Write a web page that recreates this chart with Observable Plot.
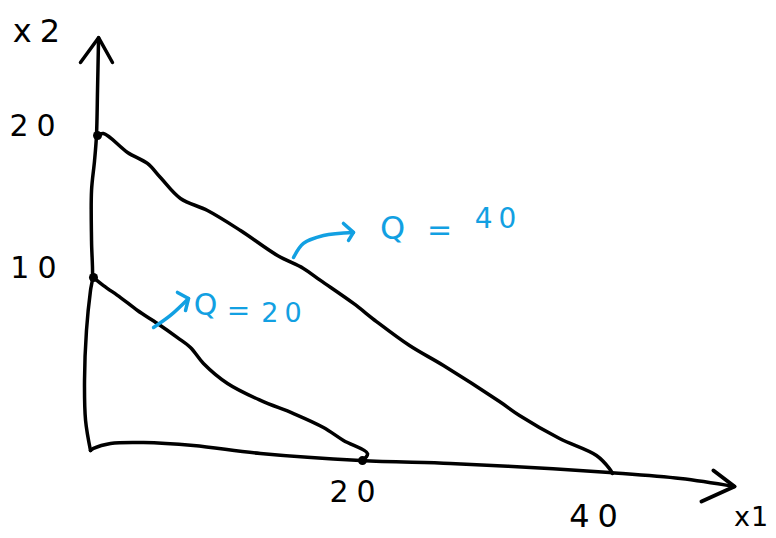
<!DOCTYPE html>
<html>
<head>
<meta charset="utf-8">
<script src="https://cdn.jsdelivr.net/npm/d3@7"></script>
<script src="https://cdn.jsdelivr.net/npm/@observablehq/plot@0.6"></script>
<style>
  html, body { margin: 0; padding: 0; background: #fff; }
  #chart { width: 776px; height: 538px; overflow: hidden; }
  .lbl text { letter-spacing: 8px; }
  .lbl2 text { letter-spacing: 1px; }
  .blue text { letter-spacing: 6px; }
</style>
</head>
<body>
<div id="chart"></div>
<script>
// Hand-drawn axes and isoquants (data units: x1 0..40, x2 0..20)
const yAxisX = [0, -0.38, -0.46, -0.31, 0, 0.15, 0.08, 0.08, 0.31, 0.46, 0.54, 0.62];
const yAxisY = [0, 1.88, 4.38, 7.5, 10, 10.75, 13.1, 16.25, 18.1, 19.7, 22.5, 25.8];
const yArrowX = [-0.77, 0.62, 1.69];
const yArrowY = [24.25, 25.8, 24.25];

const xAxisX = [0, 0.23, 1.54, 4.08, 7.92, 13.08, 20.77, 27.69, 33.85, 39.92, 45.38, 49.54];
const xAxisY = [0, 0.13, 0.44, 0.5, 0.31, -0.19, -0.63, -0.81, -1.06, -1.38, -1.75, -2.25];
const xArrowX = [47.92, 49.54, 47.0];
const xArrowY = [-1.25, -2.25, -3.19];

const q40X = [0.54, 1.0, 2.85, 4.38, 5.38, 6.92, 9.0, 11.54, 14.38, 16.38, 17.69, 20.23, 22.0, 24.54, 27.15, 31.46, 33.0, 36.08, 38.92, 39.92, 40.15];
const q40Y = [19.69, 19.81, 18.63, 17.94, 17.06, 15.75, 15.0, 13.75, 12.19, 11.38, 10.63, 9.19, 8.06, 6.56, 5.31, 3.06, 2.19, 0.75, -0.31, -1.13, -1.44];

const q20X = [0.23, 1.0, 2.31, 3.62, 5.15, 6.69, 7.69, 8.69, 10.54, 13.08, 15.62, 17.92, 19.46, 21.31, 20.92];
const q20Y = [10.81, 10.31, 9.56, 8.75, 7.94, 7.06, 6.44, 5.44, 4.19, 3.13, 2.31, 1.44, 0.63, -0.19, -0.63];

const dotX = [0.23, 0.54, 20.92];
const dotY = [10.81, 19.69, -0.63];

// blue pointer arrows
const arr40X = [15.62, 16.38, 17.92, 20.23];
const arr40Y = [12.06, 12.94, 13.44, 13.63];
const head40X = [19.46, 20.23, 19.85];
const head40Y = [14.19, 13.63, 13.13];
const arr20X = [4.85, 6.15, 7.54];
const arr20Y = [7.69, 8.44, 9.5];
const head20X = [6.69, 7.54, 7.31];
const head20Y = [9.88, 9.5, 8.75];

// tick labels
const tickText = ["20", "10", "20", "40"];
const tickX = [-4.15, -4.08, 20.46, 39.0];
const tickY = [20.25, 11.38, -2.63, -4.13];
const tickSize = [30, 30, 30, 32];

// axis names
const axisText = ["x2", "x1"];
const axisX = [-3.85, 49.5];
const axisY = [26.19, -4.2];

// annotations
const noteText = ["Q", "=", "40", "Q", "=", "20"];
const noteX = [23.46, 27.08, 31.38, 9.08, 11.62, 14.92];
const noteY = [13.88, 13.75, 14.44, 9.06, 8.69, 8.56];
const noteSize = [32, 30, 28, 30, 28, 27];

const pts = (xs, ys) => xs.map((x, i) => ({x, y: ys[i]}));

const black = "#000";
const blue = "#12a0e2";

const chart = Plot.plot({
  width: 776,
  height: 538,
  margin: 0,
  x: {domain: [0, 40], range: [90, 610], axis: null},
  y: {domain: [0, 20], range: [450, 130], axis: null},
  style: {background: "#fff", fontFamily: "DejaVu Sans"},
  marks: [
    Plot.line(pts(yAxisX, yAxisY), {x: "x", y: "y", stroke: black, strokeWidth: 3.5, curve: "catmull-rom"}),
    Plot.line(pts(yArrowX, yArrowY), {x: "x", y: "y", stroke: black, strokeWidth: 3.5}),
    Plot.line(pts(xAxisX, xAxisY), {x: "x", y: "y", stroke: black, strokeWidth: 3.5, curve: "catmull-rom"}),
    Plot.line(pts(xArrowX, xArrowY), {x: "x", y: "y", stroke: black, strokeWidth: 4}),
    Plot.line(pts(q40X, q40Y), {x: "x", y: "y", stroke: black, strokeWidth: 3.5, curve: "catmull-rom"}),
    Plot.line(pts(q20X, q20Y), {x: "x", y: "y", stroke: black, strokeWidth: 3.5, curve: "catmull-rom"}),
    Plot.dot(pts(dotX, dotY), {x: "x", y: "y", r: 4.5, fill: black}),
    Plot.line(pts(arr40X, arr40Y), {x: "x", y: "y", stroke: blue, strokeWidth: 3.5, curve: "catmull-rom"}),
    Plot.line(pts(head40X, head40Y), {x: "x", y: "y", stroke: blue, strokeWidth: 3.5}),
    Plot.line(pts(arr20X, arr20Y), {x: "x", y: "y", stroke: blue, strokeWidth: 3.5, curve: "catmull-rom"}),
    Plot.line(pts(head20X, head20Y), {x: "x", y: "y", stroke: blue, strokeWidth: 3.5}),
    Plot.text(tickText.map((t, i) => ({t, x: tickX[i], y: tickY[i], s: tickSize[i]})),
      {x: "x", y: "y", text: "t", fontSize: d => d.s, fill: black, className: "lbl"}),
    Plot.text([{t: axisText[0], x: axisX[0], y: axisY[0]}],
      {x: "x", y: "y", text: "t", fontSize: 32, fill: black, textAnchor: "middle", className: "lbl"}),
    Plot.text([{t: axisText[1], x: axisX[1], y: axisY[1]}],
      {x: "x", y: "y", text: "t", fontSize: 27, fill: black, textAnchor: "start", className: "lbl2"}),
    Plot.text(noteText.map((t, i) => ({t, x: noteX[i], y: noteY[i], s: noteSize[i]})),
      {x: "x", y: "y", text: "t", fontSize: d => d.s, fill: blue, className: "blue"})
  ]
});

document.getElementById("chart").appendChild(chart);
</script>
</body>
</html>
